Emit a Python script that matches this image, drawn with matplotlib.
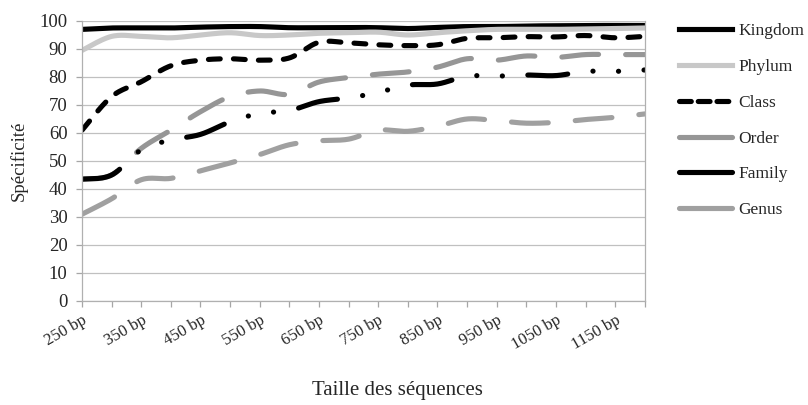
import numpy as np
import matplotlib
matplotlib.use("Agg")
import matplotlib.pyplot as plt
from matplotlib.lines import Line2D

# ---------------- data ----------------
categories = ["250 bp", "300 bp", "350 bp", "400 bp", "450 bp", "500 bp", "550 bp",
              "600 bp", "650 bp", "700 bp", "750 bp", "800 bp", "850 bp", "900 bp",
              "950 bp", "1000 bp", "1050 bp", "1100 bp", "1150 bp", "1200 bp"]
shown_labels = ["250 bp", "350 bp", "450 bp", "550 bp", "650 bp", "750 bp",
                "850 bp", "950 bp", "1050 bp", "1150 bp"]

kingdom = [97.0, 97.5, 97.5, 97.5, 97.8, 98.0, 98.0, 97.6, 97.6, 97.7,
           97.6, 97.3, 97.7, 98.0, 98.0, 98.2, 98.3, 98.4, 98.4, 98.4]
phylum = [89.5, 94.5, 94.5, 94.0, 95.0, 95.8, 94.8, 95.0, 95.6, 95.8,
          96.0, 95.0, 95.8, 96.5, 97.0, 97.0, 97.0, 97.2, 97.3, 97.5]
klass = [61.0, 73.0, 78.3, 84.0, 86.0, 86.5, 86.0, 86.8, 92.4, 92.2,
         91.5, 91.2, 91.5, 93.8, 94.0, 94.4, 94.3, 94.8, 94.0, 94.5]
order = [43.5, 45.0, 54.5, 61.0, 67.6, 73.0, 75.0, 73.8, 78.2, 79.8,
         81.0, 81.8, 83.5, 86.5, 86.0, 87.5, 87.0, 88.0, 88.0, 88.0]
family = [43.5, 45.0, 54.0, 57.5, 59.5, 64.0, 67.0, 68.0, 71.2, 72.5,
          74.5, 77.1, 77.5, 80.3, 80.3, 80.7, 80.5, 82.0, 82.0, 82.5]
genus = [31.0, 36.5, 43.3, 43.8, 46.5, 49.3, 52.3, 55.8, 57.2, 57.8,
         61.0, 60.6, 62.4, 65.0, 64.4, 63.5, 63.8, 64.8, 65.6, 66.8]

series_names = ["Kingdom", "Phylum", "Class", "Order", "Family", "Genus"]
series_values = [kingdom, phylum, klass, order, family, genus]


def smooth(values, samples=24):
    """Excel-like smoothed curve (Bezier with Catmull-Rom control points)."""
    y = np.asarray(values, dtype=float)
    x = np.arange(len(y), dtype=float)
    pts = np.column_stack([x, y])
    n = len(pts)
    out = []
    for i in range(n - 1):
        p0 = pts[i]
        p3 = pts[i + 1]
        pm = pts[i - 1] if i > 0 else pts[i]
        pp = pts[i + 2] if i + 2 < n else pts[i + 1]
        c1 = p0 + (p3 - pm) / 6.0
        c2 = p3 - (pp - p0) / 6.0
        t = np.linspace(0, 1, samples, endpoint=(i == n - 2))[:, None]
        seg = ((1 - t) ** 3) * p0 + 3 * ((1 - t) ** 2) * t * c1 + 3 * (1 - t) * t ** 2 * c2 + t ** 3 * p3
        out.append(seg)
    arr = np.vstack(out)
    return arr[:, 0], arr[:, 1]


plt.rcParams["lines.scale_dashes"] = False
serif = ["Liberation Serif", "DejaVu Serif"]
plt.rcParams["font.family"] = serif
txt = "#262626"

fig = plt.figure(figsize=(8.08, 4.05), dpi=100)
ax = fig.add_axes([0.1015, 0.2568, 0.6965, 0.6914])

lw = 3.7
styles = {
    "Kingdom": dict(color="#000000", dashes=None),
    "Phylum": dict(color="#c8c8c8", dashes=None),
    "Class": dict(color="#000000", dashes=(8.5, 9.5)),
    "Order": dict(color="#969696", dashes=(26.5, 19.5)),
    "Family": dict(color="#000000", dashes=(28.8, 18.3, 0.1, 18.3, 0.1, 18.3)),
    "Genus": dict(color="#a0a0a0", dashes=(26.5, 19.5)),
}

for name, vals in zip(series_names, series_values):
    xs, ys = smooth(vals)
    st = styles[name]
    line, = ax.plot(xs, ys, color=st["color"], lw=lw, solid_capstyle="round",
                    dash_capstyle="round", solid_joinstyle="round")
    if st["dashes"] is not None:
        line.set_dashes(st["dashes"])

ax.set_xlim(0, len(categories) - 1)
ax.set_ylim(0, 100)
ax.set_yticks(np.arange(0, 101, 10))
ax.yaxis.grid(True, color="#c0c0c0", lw=0.9)
ax.set_axisbelow(True)

ax.set_xticks(np.arange(len(categories)))
ax.set_xticklabels([c if c in shown_labels else "" for c in categories],
                   rotation=30, ha="right", rotation_mode="anchor",
                   fontsize=12, color=txt)
ax.tick_params(axis="x", length=4, width=0.9, color="#a6a6a6", pad=4)
ax.tick_params(axis="y", length=4.5, width=0.9, color="#a6a6a6", labelsize=13.5,
               labelcolor=txt, pad=6)

for s in ["left", "bottom", "right"]:
    ax.spines[s].set_color("#b0b0b0")
    ax.spines[s].set_linewidth(0.9)
ax.spines["top"].set_visible(False)

ax.set_ylabel("Spécificité", fontsize=13.5, color=txt, labelpad=8)
fig.text(397 / 808, 1 - 390 / 405, "Taille des séquences", fontsize=15,
         color=txt, ha="center", va="center")

handles = [
    Line2D([], [], color="#000000", lw=lw),
    Line2D([], [], color="#c8c8c8", lw=lw),
    Line2D([], [], color="#000000", lw=lw, dashes=(8.5, 5.0), dash_capstyle="round"),
    Line2D([], [], color="#969696", lw=lw, solid_capstyle="round"),
    Line2D([], [], color="#000000", lw=lw, solid_capstyle="round"),
    Line2D([], [], color="#a0a0a0", lw=lw, solid_capstyle="round"),
]
fig.legend(handles, series_names, loc="upper left", bbox_to_anchor=(0.8205, 0.9815),
           frameon=False, fontsize=12.5, handlelength=3.05, handletextpad=0.4,
           labelspacing=1.13, labelcolor=txt)

fig.savefig("out.png", dpi=100)
